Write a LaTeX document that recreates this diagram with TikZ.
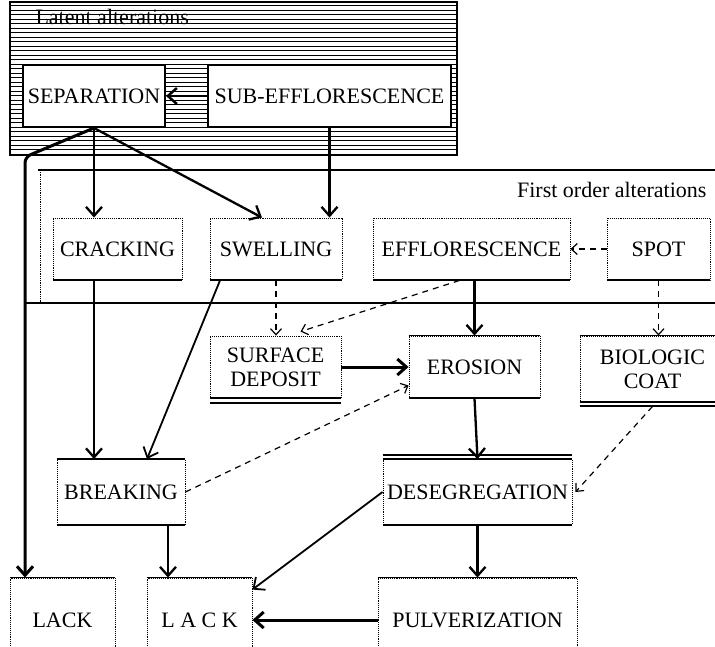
\documentclass[tikz,border=0pt]{standalone}
\usepackage{fontspec}
\setmainfont{Liberation Serif}
\usetikzlibrary{arrows.meta}
\tikzset{
  box/.style={draw,densely dotted,line width=0.9pt,fill=white,inner sep=2pt,minimum height=62pt,align=center},
  lowbox/.style={box,minimum height=84pt},
  heavy/.style={line width=2.3pt,->},
  light/.style={dash pattern=on 6pt off 5pt,line width=1.2pt,-{Straight Barb[length=6pt,width=11pt]}},
}
\begin{document}
\begin{tikzpicture}[x=1pt,y=-1pt,>={Straight Barb[length=9pt,width=16pt]},font=\fontsize{22}{24}\selectfont]
\useasboundingbox (0,0) rectangle (715,647);
\foreach \y in {5.5,10,...,152} \draw[line width=0.8pt] (11,\y) -- (456,\y);
\draw[line width=2.5pt] (10,2) rectangle (457,155);
\node[anchor=base west] (latent) at (32,25) {Latent alterations};
\node[box,solid,line width=2pt,minimum width=142pt] (sep) at (94,96) {SEPARATION};
\node[box,solid,line width=2pt,minimum width=243pt] (subeff) at (329.5,96) {SUB-EFFLORESCENCE};

\draw[line width=2.5pt] (38,170) -- (715,170);
\draw[line width=2.5pt] (25,303) -- (715,303);
\draw[densely dotted,thick] (40,170) -- (40,303);
\node[anchor=base east] (first) at (710,198) {First order alterations};

\node[box,minimum width=129pt] (crack) at (117.5,249) {CRACKING};
\node[box,minimum width=132pt] (swell) at (276,249) {SWELLING};
\node[box,minimum width=197pt] (efflor) at (471.5,249) {EFFLORESCENCE};
\node[box,minimum width=103pt] (spot) at (658.5,249) {SPOT};
\node[box,minimum width=131pt] (surf) at (275.5,367) {SURFACE\\DEPOSIT};
\node[box,minimum width=131pt] (erosion) at (474.5,367) {EROSION};
\node[box,minimum width=145pt,minimum height=66pt] (bio) at (652.5,369) {BIOLOGIC\\COAT};
\node[box,minimum width=128pt,minimum height=65pt] (breaking) at (121,492) {BREAKING};
\node[box,minimum width=189pt,minimum height=65pt] (deseg) at (477.5,492) {DESEGREGATION};
\node[lowbox,minimum width=105pt] (lack1) at (62.5,620) {LACK};
\node[lowbox,minimum width=105pt] (lack2) at (199.5,620) {L A C K};
\node[lowbox,minimum width=199pt] (pulv) at (477.5,620) {PULVERIZATION};

\foreach \n in {crack,swell,efflor,spot,surf,erosion,bio,breaking,deseg}
  \draw[line width=2pt] (\n.south west) -- (\n.south east);
\foreach \n in {erosion,bio,breaking,deseg,lack1,lack2,pulv}
  \draw[line width=1.2pt] (\n.north west) -- (\n.north east);
\draw[line width=1.2pt] ([yshift=4pt]deseg.north west) -- ([yshift=4pt]deseg.north east);
\draw[line width=2pt] ([yshift=-5pt]surf.south west) -- ([yshift=-5pt]surf.south east);
\draw[line width=2pt] ([yshift=-4pt]bio.south west) -- ([yshift=-4pt]bio.south east);

\coordinate (bend) at (25,157);
\draw[heavy,line width=2.5pt] (subeff.west) -- (sep.east);
\draw[heavy] (sep.south) -- (sep.south |- crack.north);
\draw[heavy] (sep.south) -- ([xshift=-14pt]swell.north);
\draw[line width=3pt,rounded corners=6pt,->] (sep.south) -- (bend) -- (bend |- lack1.north);
\draw[heavy] (subeff.south) -- (subeff.south |- swell.north);
\draw[heavy] (sep.south |- crack.south) -- (sep.south |- breaking.north);
\draw[heavy,line width=1.8pt] ([xshift=-56pt]swell.south) -- ([xshift=26pt]breaking.north);
\draw[light] (swell.south) -- (swell.south |- surf.north);
\draw[light] ([xshift=-12pt]efflor.south) -- ([xshift=25pt,yshift=4pt]surf.north);
\draw[heavy] (erosion.north |- efflor.south) -- (erosion.north);
\draw[light] (spot.west) -- (efflor.east);
\draw[light] (spot.south) -- (spot.south |- bio.north);
\draw[heavy,line width=3pt] (surf.east) -- (erosion.west);
\draw[light] (breaking.east) -- ([yshift=13pt]erosion.south west);
\draw[heavy] (erosion.south) -- (deseg.north);
\draw[light] ([yshift=-4pt]bio.south) -- ([xshift=3pt]deseg.east);
\draw[heavy,line width=1.8pt] (deseg.west) -- ([yshift=-12pt]lack2.north east);
\draw[heavy] (deseg.south) -- (pulv.north);
\draw[heavy,line width=3pt] (pulv.west) -- (lack2.east);
\draw[heavy] ([xshift=47pt]breaking.south) -- ([xshift=47pt]breaking.south |- lack2.north);
\end{tikzpicture}
\end{document}
